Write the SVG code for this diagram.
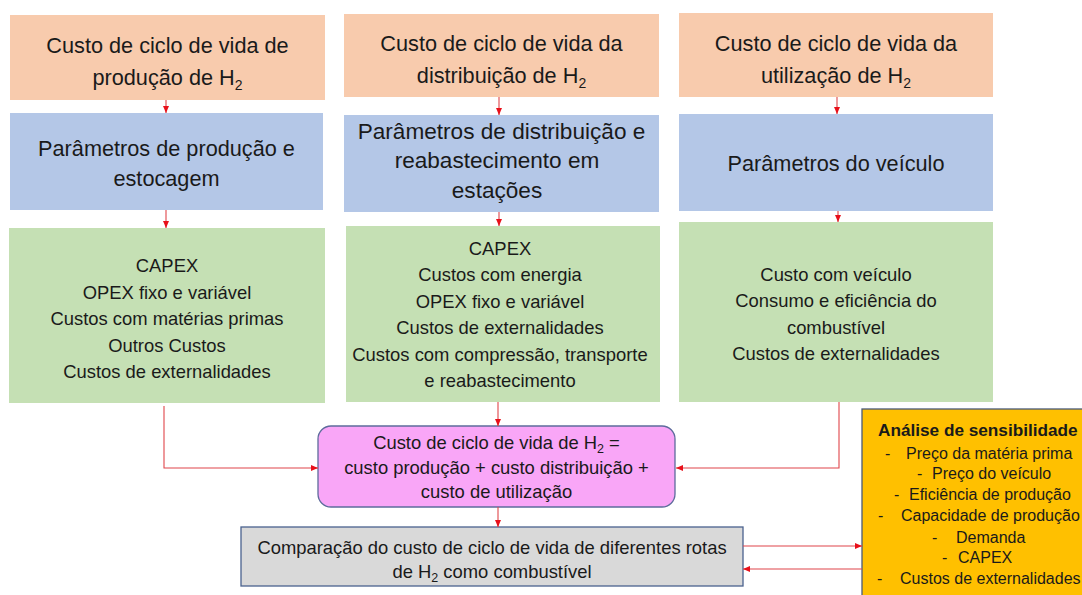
<svg xmlns="http://www.w3.org/2000/svg" width="1082" height="595" viewBox="0 0 1082 595">
<style>
.t{font-family:"Liberation Sans",Arial,sans-serif;fill:#1a1a1a;text-anchor:middle}
.big{font-size:21.7px}
.big2{font-size:22.6px}
.mid{font-size:18.4px}
.ys{font-size:16px;text-anchor:start}
.yt{font-size:17.2px;font-weight:bold;text-anchor:start}
.sub{font-size:14px}
.msub{font-size:12.5px}
.or{fill:#F8CBAD}
.bl{fill:#B4C7E7}
.gr{fill:#C5E0B4}
.ln{fill:none;stroke:#E0454A;stroke-width:1.1}
</style>
<defs>
<marker id="ah" markerUnits="userSpaceOnUse" markerWidth="8" markerHeight="8" refX="7" refY="4" orient="auto">
<path d="M0,1 L7,4 L0,7 Z" fill="#E8101A"/>
</marker>
</defs>
<rect width="1082" height="595" fill="#ffffff"/>

<g id="orange1">
<rect class="or" x="10" y="15" width="315" height="85"/>
<text class="t big" x="167.5" y="53">Custo de ciclo de vida de</text>
<text class="t big" x="167.5" y="85">produção de H<tspan class="sub" dy="5">2</tspan></text>
</g>
<g id="orange2">
<rect class="or" x="344" y="14" width="315" height="83"/>
<text class="t big" x="501.5" y="51">Custo de ciclo de vida da</text>
<text class="t big" x="501.5" y="83">distribuição de H<tspan class="sub" dy="5">2</tspan></text>
</g>
<g id="orange3">
<rect class="or" x="679" y="13" width="314" height="84"/>
<text class="t big" x="836" y="51">Custo de ciclo de vida da</text>
<text class="t big" x="836" y="83">utilização de H<tspan class="sub" dy="5">2</tspan></text>
</g>

<g id="blue1">
<rect class="bl" x="10" y="113" width="313" height="97"/>
<text class="t big" x="166.5" y="156">Parâmetros de produção e</text>
<text class="t big" x="166.5" y="186">estocagem</text>
</g>
<g id="blue2">
<rect class="bl" x="344" y="115" width="315" height="97"/>
<text class="t big2" x="501.5" y="139">Parâmetros de distribuição e</text>
<text class="t big2" x="497" y="168">reabastecimento em</text>
<text class="t big2" x="497" y="198">estações</text>
</g>
<g id="blue3">
<rect class="bl" x="679" y="114" width="314" height="97"/>
<text class="t big" x="836" y="171">Parâmetros do veículo</text>
</g>

<g id="green1">
<rect class="gr" x="9" y="228" width="316" height="175"/>
<text class="t mid" x="167" y="272">CAPEX</text>
<text class="t mid" x="167" y="298.5">OPEX fixo e variável</text>
<text class="t mid" x="167" y="325">Custos com matérias primas</text>
<text class="t mid" x="167" y="351.5">Outros Custos</text>
<text class="t mid" x="167" y="378">Custos de externalidades</text>
</g>
<g id="green2">
<rect class="gr" x="346" y="226" width="314" height="176"/>
<text class="t mid" x="500" y="254.5">CAPEX</text>
<text class="t mid" x="500" y="281">Custos com energia</text>
<text class="t mid" x="500" y="307.5">OPEX fixo e variável</text>
<text class="t mid" x="500" y="334">Custos de externalidades</text>
<text class="t mid" x="500" y="360.5">Custos com compressão, transporte</text>
<text class="t mid" x="500" y="387">e reabastecimento</text>
</g>
<g id="green3">
<rect class="gr" x="679" y="222" width="314" height="180"/>
<text class="t mid" x="836" y="280.5">Custo com veículo</text>
<text class="t mid" x="836" y="307">Consumo e eficiência do</text>
<text class="t mid" x="836" y="333.5">combustível</text>
<text class="t mid" x="836" y="360">Custos de externalidades</text>
</g>

<g id="total">
<rect x="318" y="426" width="357" height="81" rx="13" fill="#F9A6F7" stroke="#5E6C9C" stroke-width="1.3"/>
<text class="t mid" x="496.5" y="449">Custo de ciclo de vida  de H<tspan class="msub" dy="4">2</tspan><tspan dy="-4"> =</tspan></text>
<text class="t mid" x="496.5" y="474">custo produção + custo distribuição +</text>
<text class="t mid" x="496.5" y="498">custo de utilização</text>
</g>

<g id="comparison">
<rect x="241" y="527" width="502" height="59" fill="#D9D9D9" stroke="#4A628E" stroke-width="1.3"/>
<text class="t mid" x="492" y="554">Comparação do custo de ciclo de vida de diferentes rotas</text>
<text class="t mid" x="492" y="578">de H<tspan class="msub" dy="4">2</tspan><tspan dy="-4"> como combustível</tspan></text>
</g>

<g id="sensitivity">
<rect x="862" y="409" width="230" height="200" fill="#FFC000" stroke="#4A5A78" stroke-width="1.3"/>
<text class="t yt" x="878" y="436">Análise de sensibilidade</text>
<text class="t ys" x="885" y="458.5">-</text><text class="t ys" x="906" y="458.5">Preço da matéria prima</text>
<text class="t ys" x="917" y="479">-</text><text class="t ys" x="932" y="479">Preço do veículo</text>
<text class="t ys" x="894" y="500">-</text><text class="t ys" x="909" y="500">Eficiência de produção</text>
<text class="t ys" x="878" y="521">-</text><text class="t ys" x="901" y="521">Capacidade de produção</text>
<text class="t ys" x="932" y="542.5">-</text><text class="t ys" x="956" y="542.5">Demanda</text>
<text class="t ys" x="942" y="563">-</text><text class="t ys" x="958" y="563">CAPEX</text>
<text class="t ys" x="877" y="584">-</text><text class="t ys" x="900" y="584">Custos de externalidades</text>
</g>

<g id="connectors">
<line class="ln" x1="166" y1="100" x2="166" y2="113" marker-end="url(#ah)"/>
<line class="ln" x1="166" y1="210" x2="166" y2="228" marker-end="url(#ah)"/>
<line class="ln" x1="499" y1="97" x2="499" y2="115" marker-end="url(#ah)"/>
<line class="ln" x1="499" y1="212" x2="499" y2="226" marker-end="url(#ah)"/>
<line class="ln" x1="837" y1="97" x2="837" y2="114" marker-end="url(#ah)"/>
<line class="ln" x1="838" y1="211" x2="838" y2="222" marker-end="url(#ah)"/>
<line class="ln" x1="498" y1="402" x2="498" y2="426" marker-end="url(#ah)"/>
<polyline class="ln" points="164,406 164,468 318,468" marker-end="url(#ah)"/>
<polyline class="ln" points="839,402 839,468 676,468" marker-end="url(#ah)"/>
<line class="ln" x1="498" y1="507" x2="498" y2="527" marker-end="url(#ah)"/>
<line class="ln" x1="743" y1="546" x2="862" y2="546" marker-end="url(#ah)"/>
<line class="ln" x1="862" y1="569" x2="743" y2="569" marker-end="url(#ah)"/>
</g>
</svg>
